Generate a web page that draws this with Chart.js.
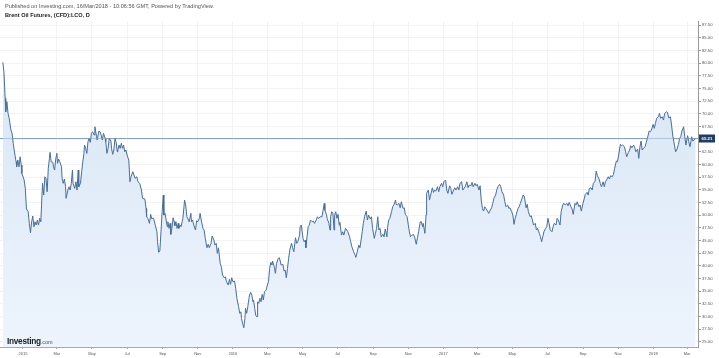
<!DOCTYPE html>
<html>
<head>
<meta charset="utf-8">
<script src="https://cdn.jsdelivr.net/npm/chart.js@4/dist/chart.umd.min.js"></script>
<style>
  html, body { margin: 0; padding: 0; background: #ffffff; }
  #wrap { position: relative; width: 719px; height: 358px; overflow: hidden; }
  #chart { position: absolute; left: 0; top: 0; }
  .pub { position: absolute; left: 5px; top: 3px; font: 5.6px "Liberation Sans", Arial, sans-serif; color: #555; white-space: nowrap; }
  .ttl { position: absolute; left: 5px; top: 12px; font: bold 5.6px "Liberation Sans", Arial, sans-serif; color: #222; white-space: nowrap; }
  .logo { position: absolute; left: 7px; top: 331px; white-space: nowrap; line-height: 1; }
  .logo b { font: bold 8.3px "Liberation Sans", Arial, sans-serif; color: #1a1a1a; letter-spacing: -0.3px; }
  .logo span { font: 5.5px "Liberation Sans", Arial, sans-serif; color: #555; }
</style>
</head>
<body>
<div id="wrap">
  <canvas id="chart" width="719" height="358"></canvas>
  <div class="pub">Published on Investing.com, 16/Mar/2018 - 10:06:56 GMT, Powered by TradingView.</div>
  <div class="ttl">Brent Oil Futures, (CFD):LCO, D</div>
  <div class="logo"><b>Investing</b><span>.com</span></div>
</div>
<script>
// Days counted from 2015-01-01
const tradeDays = [
  -35,-33,-31,-30,-28,-26,-24,-21,-19,-17,-14,-12,-11,-9,-7,-5,-3,-2,
  2,4,6,9,11,13,15,17,19,21,23,25,27,29,31,33,34,36,38,40,42,44,
  46,47,49,52,53,55,57,59,60,62,64,67,68,70,72,74,75,78,80,82,
  84,86,87,90,92,94,96,97,100,102,104,106,107,109,111,113,115,117,119,121,
  124,125,128,129,132,134,136,138,140,143,144,146,148,150,153,154,156,158,160,162,
  164,165,167,169,171,173,175,177,179,181,184,186,188,191,193,195,198,200,203,206,
  208,212,214,215,217,220,222,224,226,228,230,233,234,236,238,240,242,244,245,247,
  249,251,252,254,256,257,259,261,263,264,266,268,270,271,273,275,278,280,281,283,
  285,287,289,292,293,295,297,300,302,304,307,308,310,313,315,317,320,322,324,327,
  329,332,334,336,338,340,343,345,347,350,352,354,357,359,361,363,365,368,370,372,
  375,377,379,380,382,384,386,387,389,391,393,394,396,398,400,401,403,405,407,408,
  410,412,414,416,418,420,423,425,427,429,431,433,434,437,439,441,444,446,449,452,
  454,456,458,460,462,464,467,469,471,474,476,478,481,482,484,487,489,491,492,494,
  496,498,500,503,505,507,510,512,514,517,520,522,524,525,528,529,532,534,535,537,
  539,541,542,544,546,548,550,551,554,556,558,561,563,565,568,570,572,575,577,579,
  582,584,586,588,590,592,594,597,599,601,604,606,608,611,613,615,617,619,621,623,
  626,628,630,633,634,636,638,641,643,645,648,649,651,654,656,658,661,663,665,668,
  670,672,674,677,679,681,684,686,688,691,693,695,696,699,701,702,705,707,709,712,
  714,716,718,721,723,725,728,730,732,735,737,739,742,744,746,749,751,753,756,758,
  760,763,765,767,769,772,774,776,779,781,783,786,788,790,793,795,797,799,801,803,
  805,808,810,812,815,817,819,822,824,826,829,831,833,836,838,840,843,845,847,850,
  852,854,856,858,861,863,865,868,870,872,875,877,879,882,884,886,888,891,893,895,
  898,900,902,904,906,909,911,913,915,917,920,922,924,927,929,931,934,936,939,941,
  943,946,948,950,953,955,957,960,962,964,967,969,971,974,976,978,981,983,985,988,
  990,992,995,997,999,1002,1004,1006,1009,1011,1013,1015,1018,1020,1022,1025,1027,1029,1032,1034,
  1036,1039,1041,1043,1046,1048,1050,1053,1055,1057,1059,1062,1064,1066,1069,1071,1073,1075,1077,1079,
  1082,1084,1086,1089,1091,1093,1096,1098,1100,1102,1105,1107,1109,1112,1114,1116,1119,1121,1123,1126,
  1128,1130,1133,1135,1137,1140,1142,1144,1146,1149,1151,1153,1156,1158,1160,1163,1165,1167,1170
];

const closePrices = [
  80.14,77.97,73.04,70.40,72.37,70.08,69.10,66.79,66.14,64.17,61.86,60.54,59.55,60.87,59.55,61.52,59.89,58.25,
  56.93,55.29,51.21,50.68,48.39,46.53,48.70,49.83,47.72,48.70,48.05,49.04,48.05,49.37,48.70,53.97,56.28,53.97,57.58,57.26,54.62,59.24,
  61.21,62.39,60.54,60.42,59.55,58.90,61.21,62.19,60.22,61.07,60.54,59.55,57.26,56.28,57.13,55.61,53.32,54.96,55.61,54.96,
  56.28,58.90,56.28,55.29,56.59,54.96,58.90,55.61,56.28,58.57,60.54,62.19,63.83,63.18,62.19,64.48,65.15,64.36,66.14,66.46,
  65.80,67.44,65.47,64.82,66.59,66.46,65.80,64.82,66.14,65.15,64.48,62.19,63.18,65.15,64.62,63.18,62.00,62.85,65.15,64.36,
  62.51,62.85,63.83,63.18,64.17,63.18,63.83,62.51,62.85,61.86,60.87,56.59,57.58,58.57,57.91,57.26,57.58,56.59,56.28,54.96,
  53.32,53.18,51.35,49.69,49.37,48.39,50.16,49.24,49.49,49.04,48.05,46.73,44.76,42.67,42.92,46.73,50.68,53.97,50.02,50.36,
  49.04,47.72,48.70,47.40,48.39,46.22,47.40,49.49,48.70,47.91,48.70,47.40,48.39,47.40,48.05,47.72,49.37,51.66,52.98,52.00,
  49.69,49.24,48.70,50.36,48.70,49.04,48.05,47.07,48.90,48.70,49.49,50.36,49.04,47.40,47.07,45.43,43.58,44.25,43.58,44.44,
  45.88,45.09,44.11,44.44,42.47,43.58,40.50,39.83,38.19,37.66,37.85,36.87,36.22,37.34,36.36,37.66,36.87,37.01,35.57,33.60,
  31.94,30.64,30.95,29.65,28.66,27.80,29.65,31.62,30.64,31.94,33.60,34.25,34.78,34.25,32.92,33.26,31.62,30.16,29.97,32.92,
  32.61,33.60,32.92,34.38,33.26,34.90,35.23,36.22,36.87,39.51,40.70,40.16,40.95,39.83,38.53,40.50,41.48,41.60,40.16,40.30,
  38.98,39.18,37.66,39.51,41.48,43.12,44.44,43.58,42.79,45.55,44.44,44.76,46.08,47.72,48.05,45.43,44.76,45.09,43.58,45.74,
  47.72,48.05,49.04,48.70,48.84,48.39,49.04,49.69,49.37,49.69,49.69,51.01,52.33,51.01,50.02,49.37,48.39,47.07,49.69,50.68,
  50.36,47.07,50.02,50.68,49.37,50.16,48.05,48.59,46.08,46.73,46.08,47.40,47.07,46.73,45.74,44.76,43.77,42.79,42.27,41.68,
  43.12,44.11,43.58,45.09,46.73,48.39,49.69,50.81,49.04,50.02,49.24,49.69,47.40,45.43,46.42,47.40,49.69,47.07,47.40,45.74,
  46.22,45.74,47.26,45.74,47.52,49.04,49.37,50.68,51.66,52.00,52.98,52.14,52.00,52.33,51.46,52.65,51.35,51.46,50.16,49.69,
  48.19,46.73,45.74,46.08,46.22,45.74,44.25,45.55,46.73,48.70,48.70,47.72,48.39,46.42,50.02,54.31,54.96,52.98,53.97,55.41,
  54.50,54.96,54.76,55.61,54.62,55.61,56.28,55.61,56.59,56.93,54.96,54.31,55.80,55.29,54.11,54.96,55.41,54.96,55.61,54.96,
  56.28,56.59,54.96,55.29,55.61,56.59,55.41,55.94,55.80,56.47,55.61,56.28,55.80,56.08,54.96,55.80,52.98,51.35,50.81,51.66,
  51.35,50.81,50.36,50.81,51.46,52.33,53.32,53.97,54.96,55.61,56.08,55.61,54.62,53.97,52.65,51.66,52.00,51.35,51.46,50.68,
  50.02,48.19,49.37,50.16,51.35,51.66,52.33,53.32,53.97,53.63,51.46,52.14,50.68,49.69,49.89,49.04,48.05,48.39,47.07,47.40,
  46.42,45.74,44.76,45.74,46.73,47.40,47.72,49.37,48.39,47.07,46.73,47.72,48.39,48.05,49.37,49.04,48.05,50.68,52.14,52.33,
  52.00,52.33,51.86,52.53,51.66,51.21,50.16,52.33,52.00,52.65,51.66,52.00,50.81,52.33,53.18,54.11,54.50,53.97,55.29,55.41,
  54.96,56.28,56.73,58.70,57.78,57.13,56.28,55.61,56.59,55.61,56.59,56.93,57.58,57.13,57.78,57.58,58.05,59.24,60.68,60.54,
  61.86,63.97,63.69,63.83,63.50,62.51,61.52,62.39,62.85,63.69,63.30,63.83,63.30,62.51,63.04,61.21,63.50,64.62,62.85,63.18,
  63.50,64.36,65.15,66.59,66.46,66.79,67.91,67.13,68.11,69.10,69.41,70.08,69.10,69.41,68.76,70.08,70.40,70.28,69.22,69.41,
  67.78,65.80,63.83,62.51,62.85,63.97,65.15,65.47,66.59,67.44,65.47,63.83,65.67,64.48,63.50,65.47,64.62,64.82,65.21
];

const lastPrice = 65.21;

const xTickDays   = [0, 59, 120, 181, 243, 304, 365, 425, 486, 547, 609, 670, 731, 790, 851, 912, 974, 1035, 1096, 1155];
const xTickLabels = ['2015','Mar','May','Jul','Sep','Nov','2016','Mar','May','Jul','Sep','Nov','2017','Mar','May','Jul','Sep','Nov','2018','Mar'];

const yTickValues = [25,27.5,30,32.5,35,37.5,40,42.5,45,47.5,50,52.5,55,57.5,60,62.5,65,67.5,70,72.5,75,77.5,80,82.5,85,87.5];

const X_MIN = -40, X_MAX = 1174, Y_MIN = 24.0, Y_MAX = 88.3;

const n = Math.min(tradeDays.length, closePrices.length);
const series = [];
for (let i = 0; i < n; i++) series.push({ x: tradeDays[i], y: closePrices[i] });

const FONT = '"Liberation Sans", Arial, sans-serif';

// Last-price line (drawn under the series) and its label on the axis
const lastPriceLine = {
  id: 'lastPriceLine',
  beforeDatasetsDraw(chart) {
    const { ctx, chartArea, scales } = chart;
    const py = Math.floor(scales.y.getPixelForValue(lastPrice)) + 0.5;
    ctx.save();
    ctx.strokeStyle = '#8aa3c0';
    ctx.lineWidth = 1;
    ctx.beginPath();
    ctx.moveTo(chartArea.left, py);
    ctx.lineTo(chartArea.right, py);
    ctx.stroke();
    ctx.restore();
  },
  afterDatasetsDraw(chart) {
    const { ctx, chartArea, scales } = chart;
    const py = Math.floor(scales.y.getPixelForValue(lastPrice)) + 0.5;
    ctx.save();
    ctx.strokeStyle = 'rgba(138,163,192,0.55)';
    ctx.lineWidth = 1;
    ctx.beginPath();
    ctx.moveTo(chartArea.left, py);
    ctx.lineTo(chartArea.right, py);
    ctx.stroke();
    ctx.restore();
  },
  afterDraw(chart) {
    const { ctx, chartArea, scales } = chart;
    const py = Math.floor(scales.y.getPixelForValue(lastPrice));
    const x0 = chartArea.right + 1;
    ctx.save();
    ctx.fillStyle = '#1f3d63';
    ctx.fillRect(x0, py - 3.5, 16, 8);
    ctx.fillStyle = '#ffffff';
    ctx.font = 'bold 4.4px ' + FONT;
    ctx.textAlign = 'center';
    ctx.textBaseline = 'middle';
    ctx.fillText(lastPrice.toFixed(2), x0 + 8, py + 0.8);
    ctx.restore();
  }
};

new Chart(document.getElementById('chart'), {
  type: 'line',
  data: {
    datasets: [
      {
        data: series,
        borderColor: '#4a6d94',
        borderWidth: 1,
        pointRadius: 0,
        tension: 0,
        fill: 'start',
        backgroundColor: (c) => {
          const { ctx, chartArea } = c.chart;
          if (!chartArea) return 'rgba(220,232,246,1)';
          const g = ctx.createLinearGradient(0, chartArea.top, 0, chartArea.bottom);
          g.addColorStop(0, '#d6e4f4');
          g.addColorStop(1, '#edf4fd');
          return g;
        }
      }
    ]
  },
  options: {
    responsive: false,
    animation: false,
    devicePixelRatio: 1,
    layout: { padding: { top: 21, left: 0, right: 0, bottom: 0 } },
    plugins: { legend: { display: false }, tooltip: { enabled: false }, title: { display: false } },
    scales: {
      x: {
        type: 'linear',
        min: X_MIN,
        max: X_MAX,
        afterBuildTicks: (s) => { s.ticks = xTickDays.map(v => ({ value: v })); },
        afterFit: (s) => { s.height = 11; },
        ticks: {
          autoSkip: false,
          maxRotation: 0,
          padding: 2,
          color: '#555',
          font: { family: FONT, size: 4 },
          callback: (v, i) => xTickLabels[i]
        },
        grid: { color: '#f3f3f3', lineWidth: 1, tickLength: 2, tickColor: '#aaa' },
        border: { color: '#a9a9a9', width: 1 }
      },
      y: {
        position: 'right',
        min: Y_MIN,
        max: Y_MAX,
        afterBuildTicks: (s) => { s.ticks = yTickValues.map(v => ({ value: v })); },
        afterFit: (s) => { s.width = 21; },
        ticks: {
          padding: 1,
          color: '#555',
          font: { family: FONT, size: 4.2 },
          callback: (v) => Number(v).toFixed(2)
        },
        grid: { color: '#f3f3f3', lineWidth: 1, tickLength: 3, tickColor: '#999' },
        border: { color: '#999', width: 1 }
      }
    }
  },
  plugins: [lastPriceLine]
});
</script>
</body>
</html>
